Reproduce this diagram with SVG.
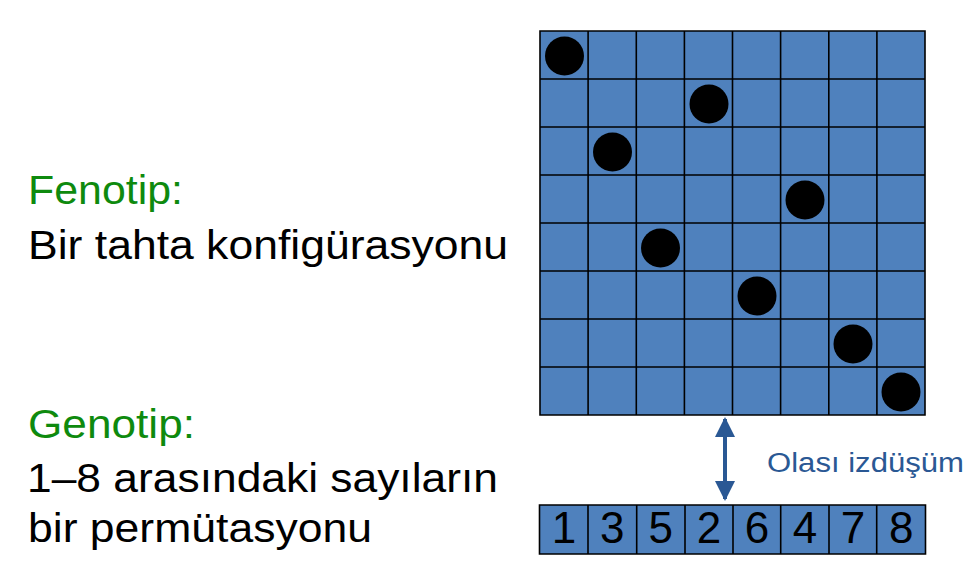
<svg xmlns="http://www.w3.org/2000/svg" width="977" height="583" viewBox="0 0 977 583">
  <style>
    .cell { fill: #4F81BD; stroke: #000; stroke-width: 1.6; }
    .q { fill: #000; }
    .lbl { font-family: "Liberation Sans", Arial, sans-serif; }
    .head { fill: #0E8A0E; }
    .body { fill: #000; }
    .num { font-family: "Liberation Sans", Arial, sans-serif; font-size: 44px; fill: #000; text-anchor: middle; }
    .conn { stroke: #2A5894; stroke-width: 4; fill: none; }
  </style>
  <defs>
    <marker id="ah" viewBox="0 0 10 10" refX="9" refY="5" markerWidth="5" markerHeight="5" orient="auto-start-reverse" markerUnits="strokeWidth">
      <path d="M0,0 L10,5 L0,10 z" fill="#2A5894"/>
    </marker>
  </defs>
  <rect width="977" height="583" fill="#fff"/>

  <g id="fenotip" class="lbl">
    <text x="28" y="204" font-size="41" class="head" textLength="155" lengthAdjust="spacingAndGlyphs">Fenotip:</text>
    <text x="28" y="259" font-size="41" class="body" textLength="480" lengthAdjust="spacingAndGlyphs">Bir tahta konfigürasyonu</text>
  </g>

  <g id="genotip" class="lbl">
    <text x="28" y="438" font-size="41" class="head" textLength="167" lengthAdjust="spacingAndGlyphs">Genotip:</text>
    <text x="27" y="492" font-size="41" class="body" textLength="471" lengthAdjust="spacingAndGlyphs">1–8 arasındaki sayıların</text>
    <text x="28" y="542" font-size="41" class="body" textLength="344" lengthAdjust="spacingAndGlyphs">bir permütasyonu</text>
  </g>

  <g id="board">
    <rect x="540" y="31" width="385" height="384" fill="#4F81BD"/>
    <path d="M540,31 H925 V415 H540 Z
             M588.1,31 V415 M636.3,31 V415 M684.4,31 V415 M732.5,31 V415 M780.6,31 V415 M828.8,31 V415 M876.9,31 V415
             M540,79 H925 M540,127 H925 M540,175 H925 M540,223 H925 M540,271 H925 M540,319 H925 M540,367 H925"
          stroke="#000" stroke-width="1.6" fill="none"/>
    <circle class="q" cx="564.5" cy="56" r="19.5"/>
    <circle class="q" cx="612.5" cy="152" r="19.5"/>
    <circle class="q" cx="660.5" cy="248" r="19.5"/>
    <circle class="q" cx="709" cy="104" r="19.5"/>
    <circle class="q" cx="757" cy="296" r="19.5"/>
    <circle class="q" cx="805" cy="200" r="19.5"/>
    <circle class="q" cx="853" cy="344" r="19.5"/>
    <circle class="q" cx="901" cy="392" r="19.5"/>
  </g>

  <g id="permutation">
    <rect x="539.5" y="505" width="386" height="49" fill="#4F81BD"/>
    <path d="M539.5,505 H925.5 V554 H539.5 Z
             M588,505 V554 M636.7,505 V554 M685,505 V554 M733,505 V554 M780.7,505 V554 M829,505 V554 M876.7,505 V554"
          stroke="#000" stroke-width="1.6" fill="none"/>
    <text class="num" x="564" y="543">1</text>
    <text class="num" x="612.3" y="543">3</text>
    <text class="num" x="660.8" y="543">5</text>
    <text class="num" x="709" y="543">2</text>
    <text class="num" x="757" y="543">6</text>
    <text class="num" x="805" y="543">4</text>
    <text class="num" x="853" y="543">7</text>
    <text class="num" x="901.2" y="543">8</text>
  </g>

  <g id="connectors">
    <line class="conn" x1="725" y1="419" x2="725" y2="499" marker-start="url(#ah)" marker-end="url(#ah)"/>
    <text class="lbl" x="767" y="472" font-size="27" fill="#2A5894" textLength="197" lengthAdjust="spacingAndGlyphs">Olası izdüşüm</text>
  </g>
</svg>
